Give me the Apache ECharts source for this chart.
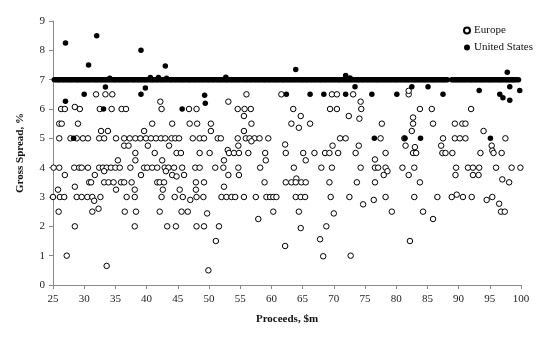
<!DOCTYPE html>
<html>
<head>
<meta charset="utf-8">
<script src="https://cdn.jsdelivr.net/npm/echarts@6/dist/echarts.min.js"></script>
<style>
  html, body { margin: 0; padding: 0; background: #fff; }
  #chart { width: 560px; height: 341px; }
</style>
</head>
<body>
<div id="chart"></div>
<script>
// Gross spread (%) against deal proceeds ($m), IPOs of $25m-$100m.

const xTicks = [25, 30, 35, 40, 45, 50, 55, 60, 65, 70, 75, 80, 85, 90, 95, 100];
const yTicks = [0, 1, 2, 3, 4, 5, 6, 7, 8, 9];

// European deals: [proceeds, spread]
const europeDeals = [
  [31.9,6.5],[33.4,6.5],[34.5,6.5],[56.0,6.5],[61.6,6.5],[69.7,6.5],[70.5,6.5],[73.1,6.5],[82.0,6.5],[82.0,6.62],
  [42.2,6.25],[53.1,6.25],[74.3,6.25],[28.5,6.07],
  [26.3,6],[26.9,6],[29.3,6],[32.5,6],[34.4,6],[36.0,6],[36.7,6],[42.4,6],[46.8,6],[48.0,6],[54.6,6],[55.7,6],[56.7,6],
  [63.5,6],[69.4,6],[70.5,6],[74.4,6],[83.8,6],[85.7,6],[92.0,6],
  [55.6,5.76],[64.7,5.76],[72.4,5.76],[82.7,5.71],[74.1,5.67],
  [26.0,5.5],[26.4,5.5],[29.0,5.5],[40.9,5.5],[44.1,5.5],[46.9,5.5],[48.1,5.5],[50.3,5.5],[56.8,5.5],[63.2,5.5],
  [66.2,5.5],[77.7,5.5],[82.7,5.5],[85.9,5.5],[89.4,5.5],[90.6,5.5],[91.1,5.5],
  [64.4,5.36],
  [32.7,5.25],[33.8,5.25],[39.6,5.25],[50.3,5.25],[55.6,5.25],[82.5,5.25],[94.0,5.25],
  [26.0,5],[27.8,5],[28.8,5],[29.8,5],[30.6,5],[32.4,5],[33.2,5],[35.1,5],[36.4,5],[37.3,5],[38.2,5],[39.0,5],
  [39.9,5],[40.7,5],[41.5,5],[42.3,5],[43.0,5],[44.0,5],[44.6,5],[45.2,5],[47.4,5],[48.5,5],[49.2,5],[51.4,5],
  [51.9,5],[54.6,5],[55.9,5],[56.5,5],[57.3,5],[58.1,5],[59.5,5],[71.0,5],[71.9,5],[77.5,5],[81.3,5],[87.5,5],
  [89.4,5],[90.2,5],[91.1,5],[97.5,5],
  [56.8,4.9],[62.2,4.79],
  [36.4,4.75],[37.1,4.75],[40.2,4.75],[43.6,4.75],[54.7,4.75],[69.8,4.75],[74.0,4.75],[81.5,4.75],[87.2,4.75],[95.3,4.75],
  [83.0,4.7],[53.0,4.6],[95.4,4.58],
  [38.2,4.5],[41.3,4.5],[44.8,4.5],[45.5,4.5],[48.5,4.5],[50.1,4.5],[53.2,4.5],[54.0,4.5],[54.8,4.5],[56.3,4.5],
  [59.0,4.5],[62.3,4.5],[65.1,4.5],[66.9,4.5],[68.6,4.5],[69.3,4.5],[70.7,4.5],[73.5,4.5],[78.3,4.5],[82.7,4.5],
  [83.2,4.5],[87.4,4.5],[87.9,4.5],[89.0,4.5],[93.5,4.5],[95.6,4.5],[96.9,4.5],
  [35.4,4.25],[38.2,4.25],[42.5,4.25],[52.4,4.25],[59.1,4.25],[65.5,4.25],[76.6,4.28],
  [25.1,4],[26.0,4],[28.4,4],[29.2,4],[29.6,4],[30.6,4],[32.4,4],[33.0,4],[33.6,4],[34.3,4],[35.0,4],[35.7,4],
  [37.4,4],[39.6,4],[40.1,4],[40.9,4],[41.7,4],[42.9,4],[43.5,4],[44.4,4],[45.7,4],[47.8,4],[48.5,4],[51.0,4],
  [52.3,4],[54.7,4],[58.2,4],[63.6,4],[68.0,4],[69.7,4],[74.3,4],[76.6,4],[77.1,4],[78.3,4],[81.0,4],[82.9,4],
  [89.6,4],[91.5,4],[92.3,4],[93.3,4],[96.0,4],[98.5,4],[99.9,4],
  [33.2,3.88],[43.1,3.88],[78.6,3.88],
  [26.9,3.75],[31.7,3.75],[39.1,3.75],[44.1,3.75],[46.0,3.75],[53.1,3.75],[54.8,3.75],[78.0,3.75],[82.0,3.75],
  [89.5,3.75],[92.3,3.75],[93.2,3.75],
  [44.8,3.7],[64.0,3.63],[97.0,3.6],
  [30.8,3.5],[31.1,3.5],[33.2,3.5],[33.9,3.5],[34.7,3.5],[35.9,3.5],[36.4,3.5],[37.6,3.5],[41.7,3.5],[42.1,3.5],
  [42.8,3.5],[47.9,3.5],[49.2,3.5],[58.9,3.5],[62.3,3.5],[63.2,3.5],[63.9,3.5],[64.8,3.5],[65.5,3.5],[69.3,3.5],
  [73.7,3.5],[76.6,3.5],[83.8,3.5],[98.1,3.5],
  [28.5,3.35],[52.4,3.35],
  [25.8,3.25],[35.1,3.25],[38.1,3.25],[42.6,3.25],[45.3,3.25],[47.9,3.25],
  [89.7,3.08],
  [25.0,3],[26.1,3],[26.8,3],[28.8,3],[29.6,3],[30.5,3],[31.3,3],[32.6,3],[36.8,3],[38.1,3],[42.4,3],[44.5,3],
  [45.8,3],[48.0,3],[49.1,3],[52.0,3],[52.8,3],[53.6,3],[54.2,3],[55.6,3],[57.5,3],[59.2,3],[59.8,3],[60.3,3],
  [60.8,3],[63.9,3],[64.7,3],[65.4,3],[69.5,3],[72.5,3],[78.3,3],[82.9,3],[86.6,3],[88.9,3],[90.7,3],[92.1,3],[95.4,3],
  [31.6,2.87],[47.0,2.9],[76.4,2.9],[94.5,2.9],[96.5,2.77],[74.7,2.75],[32.3,2.6],
  [25.9,2.5],[31.3,2.5],[36.5,2.5],[38.3,2.5],[42.1,2.5],[45.6,2.5],[46.6,2.5],[60.3,2.5],[64.4,2.5],[79.3,2.5],
  [84.3,2.5],[96.8,2.5],[97.4,2.5],
  [49.7,2.44],[70.0,2.44],[57.9,2.25],[85.9,2.25],
  [28.5,2],[38.1,2],[43.3,2],[44.7,2],[48.0,2],[49.2,2],[51.6,2],[68.8,2],
  [64.7,1.94],[67.8,1.56],[51.1,1.5],[82.2,1.5],[62.2,1.33],
  [27.2,1],[68.3,0.98],[72.7,1],[33.6,0.65],[49.9,0.5]
];

// US deals away from the 7% cluster: [proceeds, spread]
const usDeals = [
  [27.0,8.25],[32.0,8.5],[30.7,7.5],[39.1,8.0],[43.0,7.47],[34.1,7.05],[40.6,7.07],[41.9,7.07],[43.2,7.05],
  [52.7,7.08],[63.9,7.35],[71.9,7.14],[72.6,7.06],[97.8,7.25],
  [27.0,6.26],[30.0,6.5],[33.4,6.75],[39.1,6.5],[39.8,6.72],[33.1,6],[28.3,5],[45.7,6],[49.3,6.47],[49.4,6.2],
  [62.4,6.5],[66.2,6.5],[68.4,6.5],[71.9,6.5],[76.1,6.5],[80.1,6.5],[73.4,6.76],[82.5,6.76],[85.1,6.76],
  [87.5,6.5],[93.3,6.63],[96.6,6.5],[97.1,6.38],[98.2,6.3],[98.2,6.76],[99.8,6.63],
  [76.5,5],[81.4,5],[83.9,5],[95.1,5]
];

// Proceeds of the US deals priced at exactly 7%
const usSevenPercentProceeds = [
  25.2,25.45,25.7,25.9, 26.1,26.35,26.6,26.8, 27.05,27.3,27.5,27.75,27.95,
  28.2,28.45,28.7,28.9, 29.1,29.35,29.6,29.8, 30.05,30.3,30.5,30.75,30.95,
  31.2,31.45,31.7,31.9, 32.1,32.35,32.6,32.8, 33.05,33.3,33.5,33.75,33.95,
  34.2,34.45,34.7,34.9, 35.1,35.35,35.6,35.8, 36.05,36.3,36.5,36.75,36.95,
  37.2,37.45,37.7,37.9, 38.1,38.35,38.6,38.8, 39.05,39.3,39.5,39.75,39.95,
  40.2,40.45,40.7,40.9, 41.1,41.35,41.6,41.8, 42.05,42.3,42.5,42.75,42.95,
  43.2,43.45,43.7,43.9, 44.1,44.35,44.6,44.8, 45.05,45.3,45.5,45.75,45.95,
  46.2,46.45,46.7,46.9, 47.1,47.35,47.6,47.8, 48.05,48.3,48.5,48.75,48.95,
  49.2,49.45,49.7,49.9, 50.1,50.35,50.6,50.8, 51.05,51.3,51.5,51.75,51.95,
  52.2,52.45,52.7,52.9, 53.1,53.35,53.6,53.8, 54.05,54.3,54.5,54.75,54.95,
  55.2,55.45,55.7,55.9, 56.1,56.35,56.6,56.8, 57.05,57.3,57.5,57.75,57.95,
  58.2,58.45,58.7,58.9, 59.1,59.35,59.6,59.8, 60.05,60.3,60.5,60.75,60.95,
  61.2,61.45,61.7,61.9, 62.1,62.35,62.6,62.8, 63.05,63.3,63.5,63.75,63.95,
  64.2,64.45,64.7,64.9, 65.1,65.35,65.6,65.8, 66.05,66.3,66.5,66.75,66.95,
  67.2,67.45,67.7,67.9, 68.1,68.35,68.6,68.8, 69.05,69.3,69.5,69.75,69.95,
  70.2,70.45,70.7,70.9, 71.1,71.35,71.6,71.8, 72.05,72.3,72.5,72.75,72.95,
  73.2,73.45,73.7,73.9, 74.1,74.35,74.6,74.8, 75.05,75.3,75.5,75.75,75.95,
  76.2,76.45,76.7,76.9, 77.1,77.35,77.6,77.8, 78.05,78.3,78.5,78.75,78.95,
  79.2,79.45,79.7,79.9, 80.1,80.35,80.6,80.8, 81.05,81.3,81.5,81.75,81.95,
  82.2,82.45,82.7,82.9, 83.1,83.35,83.6,83.8, 84.05,84.3,84.5,84.75,84.95,
  85.2,85.45,85.7,85.9, 86.1,86.35,86.6,86.8, 87.05,87.3,87.5,87.75,87.95,
  88.2,88.9, 89.1,89.35,89.6,89.8, 90.05,90.3,90.5,90.75,90.95,
  91.2,91.45,91.7,91.9, 92.1,92.35,92.6,92.8, 93.05,93.3,93.5,93.75,93.95,
  94.2,94.45,94.7,94.9, 95.1,95.35,95.6,95.8, 96.05,96.3,96.5,96.75,96.95,
  97.2,97.45,97.7,97.9, 98.1,98.35,98.6,98.8, 99.05,99.3,99.6
];

const usAll = usSevenPercentProceeds.map(x => [x, 7]).concat(usDeals);

const serif = '"Liberation Serif", "DejaVu Serif", serif';
const axisGrey = '#8a8a8a';

const chart = echarts.init(document.getElementById('chart'), null, { renderer: 'canvas' });

chart.setOption({
  animation: false,
  backgroundColor: '#ffffff',
  grid: { left: 53, right: 39, top: 21, bottom: 56, containLabel: false },
  legend: {
    orient: 'vertical',
    left: 458,
    top: 20,
    itemWidth: 6,
    itemHeight: 6,
    itemGap: 6,
    icon: 'circle',
    textStyle: { fontFamily: serif, fontSize: 11, color: '#111', padding: [0, 0, 0, -1] },
    data: ['Europe', 'United States']
  },
  xAxis: {
    type: 'value',
    min: xTicks[0],
    max: xTicks[xTicks.length - 1],
    interval: 5,
    name: 'Proceeds, $m',
    nameLocation: 'middle',
    nameGap: 29,
    nameTextStyle: { fontFamily: serif, fontSize: 11, fontWeight: 'bold', color: '#111' },
    axisLine: { show: true, lineStyle: { color: axisGrey, width: 1 } },
    axisTick: { show: true, inside: false, length: 4, lineStyle: { color: axisGrey } },
    axisLabel: { fontFamily: serif, fontSize: 11, color: '#222', margin: 9 },
    splitLine: { show: false }
  },
  yAxis: {
    type: 'value',
    min: yTicks[0],
    max: yTicks[yTicks.length - 1],
    interval: 1,
    name: 'Gross Spread, %',
    nameLocation: 'middle',
    nameGap: 27,
    nameRotate: 90,
    nameTextStyle: { fontFamily: serif, fontSize: 11, fontWeight: 'bold', color: '#111' },
    axisLine: { show: true, lineStyle: { color: axisGrey, width: 1 } },
    axisTick: { show: true, inside: false, length: 4, lineStyle: { color: axisGrey } },
    axisLabel: { fontFamily: serif, fontSize: 11, color: '#222', margin: 8 },
    splitLine: { show: false }
  },
  series: [
    {
      name: 'Europe',
      type: 'scatter',
      data: europeDeals,
      symbol: 'circle',
      symbolSize: 5.5,
      itemStyle: { color: '#ffffff', borderColor: '#000000', borderWidth: 1, opacity: 1 }
    },
    {
      name: 'United States',
      type: 'scatter',
      data: usAll,
      symbol: 'circle',
      symbolSize: 5.5,
      itemStyle: { color: '#000000', opacity: 1 }
    }
  ]
});
</script>
</body>
</html>
